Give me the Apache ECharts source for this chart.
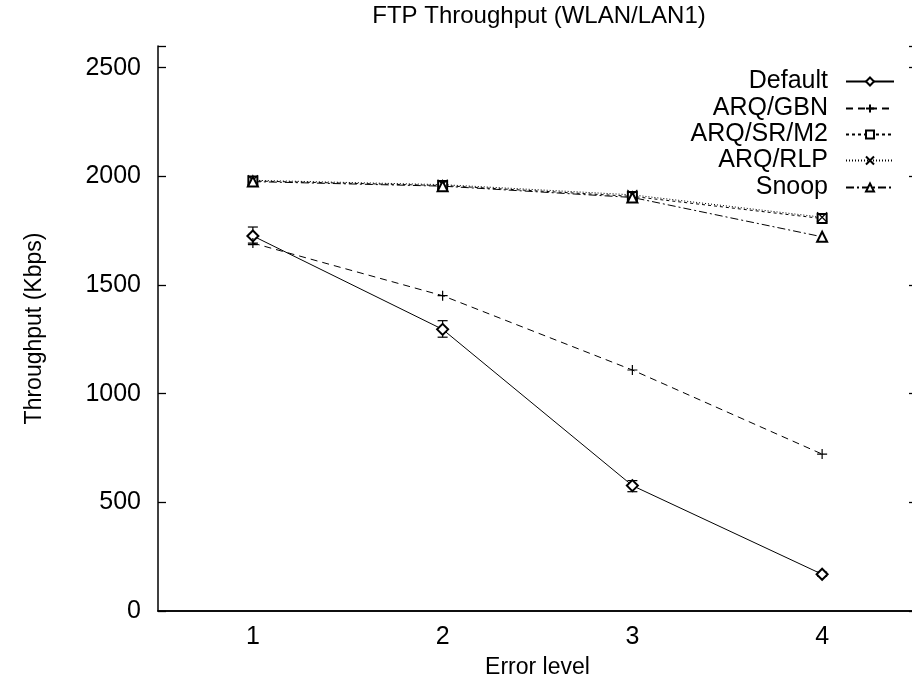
<!DOCTYPE html>
<html>
<head>
<meta charset="utf-8">
<script src="https://cdn.jsdelivr.net/npm/echarts@6/dist/echarts.min.js"></script>
<style>
  html, body { margin: 0; padding: 0; background: #fff; }
  #chart { width: 912px; height: 683px; }
</style>
</head>
<body>
<div id="chart"></div>
<script>
// Error levels along the x axis
const errorLevels = ['1', '2', '3', '4'];

// Throughput in Kbps for each scheme
const defaultTp = [1726, 1296, 577, 169];
const defaultLow = [1686, 1260, 549, 160];
const defaultHigh = [1767, 1336, 600, 179];
const arqGbn = [1693, 1451, 1109, 722];
const arqSrM2 = [1979, 1958, 1908, 1806];
const arqRlp = [1982, 1962, 1915, 1812];
const snoop = [1976, 1955, 1903, 1722];

const yTicks = [0, 500, 1000, 1500, 2000, 2500];

const FONT = 'Liberation Sans, Arial, Helvetica, sans-serif';
const BLACK = '#000';

const plusPath = 'path://M0,5L10,5M5,0L5,10';
const crossPath = 'path://M0,0L10,10M10,0L0,10';

function lineSeries(name, data, symbol, dash, symbolSize) {
  return {
    name: name,
    type: 'line',
    data: data,
    xAxisIndex: 0,
    yAxisIndex: 0,
    symbol: symbol,
    symbolSize: symbolSize || 9,
    showAllSymbol: true,
    animation: false,
    lineStyle: { color: BLACK, width: 1, type: dash },
    itemStyle: { color: BLACK, borderColor: BLACK, borderWidth: 1.2 },
    emphasis: { disabled: true },
    z: 3
  };
}

const names = ['Default', 'ARQ/GBN', 'ARQ/SR/M2', 'ARQ/RLP', 'Snoop'];
const legendTops = [64, 91, 117, 143, 170];

const tickStyle = { color: BLACK, width: 1.3 };

const chart = echarts.init(document.getElementById('chart'), null, { renderer: 'canvas' });

chart.setOption({
  backgroundColor: '#fff',
  animation: false,
  textStyle: { fontFamily: FONT, color: BLACK },
  title: {
    text: 'FTP Throughput (WLAN/LAN1)',
    left: 534,
    textAlign: 'center',
    top: -1,
    textStyle: { fontFamily: FONT, fontSize: 24, fontWeight: 'normal', color: BLACK }
  },
  legend: names.map((n, i) => ({
    data: [n],
    right: 12,
    top: legendTops[i],
    align: 'right',
    orient: 'vertical',
    itemWidth: 48,
    itemHeight: 10,
    itemGap: 18,
    selectedMode: false,
    textStyle: { fontFamily: FONT, fontSize: 25, color: BLACK, padding: [0, 13, 0, 0] }
  })),
  grid: { left: 158, right: -5, top: 46, bottom: 72, outerBoundsMode: 'none', containLabel: false },
  xAxis: [
    {
      type: 'category',
      data: errorLevels,
      boundaryGap: true,
      position: 'bottom',
      name: 'Error level',
      nameLocation: 'middle',
      nameGap: 45,
      nameTextStyle: { fontFamily: FONT, fontSize: 23, color: BLACK },
      axisLine: { lineStyle: { color: BLACK, width: 1.5 } },
      axisTick: { inside: true, length: 8, alignWithLabel: true, lineStyle: tickStyle },
      axisLabel: { fontFamily: FONT, fontSize: 25, color: BLACK, margin: 14 },
      splitLine: { show: false }
    },
    {
      type: 'category',
      data: errorLevels,
      boundaryGap: true,
      position: 'top',
      axisLine: { lineStyle: { color: BLACK, width: 1.5 } },
      axisTick: { inside: true, length: 8, alignWithLabel: true, lineStyle: tickStyle },
      axisLabel: { show: false },
      splitLine: { show: false }
    }
  ],
  yAxis: [
    {
      type: 'value',
      min: 0,
      max: 2600,
      interval: 500,
      position: 'left',
      name: 'Throughput (Kbps)',
      nameLocation: 'middle',
      nameGap: 112,
      nameRotate: 90,
      nameTextStyle: { fontFamily: FONT, fontSize: 23, color: BLACK },
      axisLine: { show: true, lineStyle: { color: BLACK, width: 1.5 } },
      axisTick: { show: true, inside: true, length: 8, lineStyle: tickStyle },
      axisLabel: {
        fontFamily: FONT, fontSize: 25, color: BLACK, margin: 17,
        formatter: v => (yTicks.indexOf(v) >= 0 ? String(v) : '')
      },
      splitLine: { show: false }
    },
    {
      type: 'value',
      min: 0,
      max: 2600,
      interval: 500,
      position: 'right',
      axisLine: { show: true, lineStyle: { color: BLACK, width: 1.5 } },
      axisTick: { show: true, inside: true, length: 8, lineStyle: tickStyle },
      axisLabel: { show: false },
      splitLine: { show: false }
    }
  ],
  series: [
    lineSeries('Default', defaultTp, 'emptyDiamond', 'solid', 11),
    lineSeries('ARQ/GBN', arqGbn, plusPath, [7, 5], 10),
    lineSeries('ARQ/SR/M2', arqSrM2, 'emptyRect', [3, 3], 9),
    lineSeries('ARQ/RLP', arqRlp, crossPath, [1, 2], 10),
    lineSeries('Snoop', snoop, 'emptyTriangle', [8, 3, 2, 3], 10),
    {
      // Error bars on the Default series
      name: 'Default-err',
      type: 'custom',
      xAxisIndex: 0,
      yAxisIndex: 0,
      data: errorLevels.map((c, i) => [i, defaultLow[i], defaultHigh[i]]),
      renderItem: function (params, api) {
        const x = api.value(0);
        const lo = api.coord([x, api.value(1)]);
        const hi = api.coord([x, api.value(2)]);
        const half = 5;
        const st = { stroke: BLACK, lineWidth: 1.2 };
        return {
          type: 'group',
          children: [
            { type: 'line', shape: { x1: lo[0], y1: lo[1], x2: hi[0], y2: hi[1] }, style: st },
            { type: 'line', shape: { x1: lo[0] - half, y1: lo[1], x2: lo[0] + half, y2: lo[1] }, style: st },
            { type: 'line', shape: { x1: hi[0] - half, y1: hi[1], x2: hi[0] + half, y2: hi[1] }, style: st }
          ]
        };
      },
      z: 2,
      silent: true
    }
  ]
});
</script>
</body>
</html>
